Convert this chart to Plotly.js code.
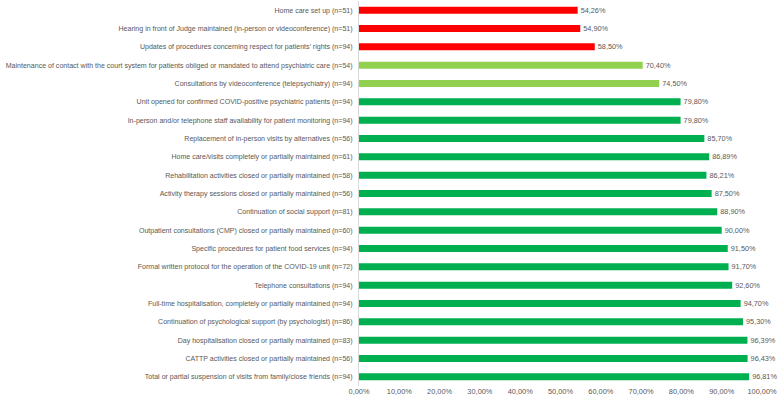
<!DOCTYPE html>
<html>
<head>
<meta charset="utf-8">
<script src="https://cdn.plot.ly/plotly-3.0.1.min.js"></script>
<style>
  body { margin: 0; background: #fff; }
  #myDiv { width: 778px; height: 400px; }
</style>
</head>
<body>
<div id="myDiv"></div>
<script>
  // categories, top to bottom
  var measures = [
    "Home care set up (n=51)",
    "Hearing in front of Judge maintained (in-person or videoconference) (n=51)",
    "Updates of procedures concerning respect for patients’ rights (n=94)",
    "Maintenance of contact with the court system for patients obliged or mandated to attend psychiatric care (n=54)",
    "Consultations by videoconference (telepsychiatry) (n=94)",
    "Unit opened for confirmed COVID-positive psychiatric patients (n=94)",
    "In-person and/or telephone staff availability for patient monitoring (n=94)",
    "Replacement of in-person visits by alternatives (n=56)",
    "Home care/visits completely or partially maintained (n=61)",
    "Rehabilitation activities closed or partially maintained (n=58)",
    "Activity therapy sessions closed or partially maintained (n=56)",
    "Continuation of social support (n=81)",
    "Outpatient consultations (CMP) closed or partially maintained (n=60)",
    "Specific procedures for patient food services (n=94)",
    "Formal written protocol for the operation of the COVID-19 unit (n=72)",
    "Telephone consultations (n=94)",
    "Full-time hospitalisation, completely or partially maintained (n=94)",
    "Continuation of psychological support (by psychologist) (n=86)",
    "Day hospitalisation closed or partially maintained (n=83)",
    "CATTP activities closed or partially maintained (n=56)",
    "Total or partial suspension of visits from family/close friends (n=94)"
  ];

  var percent = [54.26, 54.90, 58.50, 70.40, 74.50, 79.80, 79.80, 85.70, 86.89, 86.21,
                 87.50, 88.90, 90.00, 91.50, 91.70, 92.60, 94.70, 95.30, 96.39, 96.43, 96.81];

  var xTicks = [0, 10, 20, 30, 40, 50, 60, 70, 80, 90, 100];

  // colour groups: below 60 red, 60-75 light green, rest green
  var colors = [];
  for (var i = 0; i < percent.length; i++) {
    if (percent[i] < 60) colors.push('#FF0000');
    else if (percent[i] < 75) colors.push('#92D050');
    else colors.push('#00B050');
  }

  var labels = [];
  for (var i = 0; i < percent.length; i++) {
    labels.push(percent[i].toFixed(2).replace('.', ',') + '%');
  }
  var tickText = [];
  for (var i = 0; i < xTicks.length; i++) {
    tickText.push(xTicks[i].toFixed(2).replace('.', ',') + '%');
  }

  var bars = {
    type: 'bar',
    orientation: 'h',
    x: percent,
    y: measures,
    marker: {color: colors},
    text: labels,
    textposition: 'outside',
    constraintext: 'none',
    textfont: {size: 7.3, color: '#595959'},
    cliponaxis: false,
    hoverinfo: 'x+y'
  };

  var layout = {
    width: 778, height: 400,
    margin: {l: 359, r: 16, t: 1, b: 14},
    paper_bgcolor: '#fff',
    plot_bgcolor: '#fff',
    font: {family: 'Liberation Sans, Arial, sans-serif', size: 7, color: '#595959'},
    showlegend: false,
    bargap: 0.62,
    xaxis: {
      range: [0, 100],
      tickvals: xTicks,
      ticktext: tickText,
      showgrid: false,
      zeroline: false,
      showline: false,
      ticklabeloverflow: 'allow',
      tickfont: {size: 7.4, color: '#595959'},
      fixedrange: true
    },
    yaxis: {
      type: 'category',
      autorange: 'reversed',
      showgrid: false,
      zeroline: false,
      showline: true,
      linecolor: '#D9D9D9',
      linewidth: 1,
      ticks: '',
      ticklabelstandoff: 4,
      automargin: false,
      tickfont: {size: 7.05, color: '#595959'}
    }
  };

  Plotly.newPlot('myDiv', [bars], layout, {displayModeBar: false});
</script>
</body>
</html>
